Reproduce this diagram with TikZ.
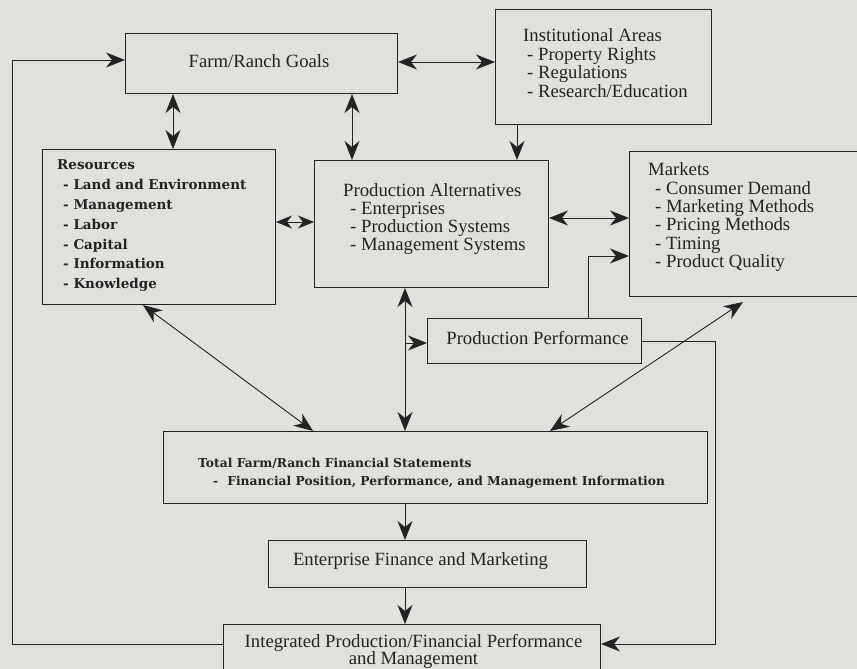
\documentclass[tikz,border=0pt]{standalone}
\usepackage{fontspec}
\setmainfont{Liberation Serif}
\newfontfamily\resfont{DejaVu Serif}
\usetikzlibrary{arrows.meta}
\definecolor{paper}{RGB}{224,224,220}
\definecolor{ink}{RGB}{35,35,35}
\begin{document}
\begin{tikzpicture}[x=1pt,y=-1pt,
  box/.style={draw=ink, line width=1pt, anchor=north west, inner sep=0pt},
  tx/.style={anchor=base west, inner sep=0pt, text=ink, font=\fontsize{18.7}{18.7}\selectfont},
  txc/.style={anchor=base, inner sep=0pt, text=ink, font=\fontsize{18.7}{18.7}\selectfont},
  rx/.style={anchor=base west, inner sep=0pt, text=ink, font=\resfont\bfseries\fontsize{13.5}{13.5}\selectfont},
  fx/.style={anchor=base west, inner sep=0pt, text=ink, font=\resfont\bfseries\fontsize{12.3}{12.3}\selectfont},
  con/.style={draw=ink, line width=0.9pt},
  >={Stealth[length=19pt,width=15pt,inset=6pt]},
  smalltips/.style={>={Stealth[length=16pt,width=13pt,inset=5pt]}}]
\useasboundingbox (0,0) rectangle (857,669);
\fill[paper] (0,0) rectangle (857,669);

% boxes
\node[box, minimum width=272pt, minimum height=60pt] (goals) at (125,33) {};
\node[box, minimum width=216pt, minimum height=115pt] (inst) at (495,9) {};
\node[box, minimum width=233pt, minimum height=155pt] (res) at (42,149) {};
\node[box, minimum width=234pt, minimum height=127pt] (alt) at (314,160) {};
\node[box, minimum width=240pt, minimum height=145pt] (mkt) at (629,151) {};
\node[box, minimum width=214pt, minimum height=45pt] (perf) at (427,318) {};
\node[box, minimum width=544pt, minimum height=72pt] (tot) at (163,431) {};
\node[box, minimum width=318pt, minimum height=47pt] (ent) at (268,540) {};
\node[box, minimum width=377pt, minimum height=60pt] (integ) at (223,624) {};

% texts
\node[txc] (tgoals) at (259,68) {Farm/Ranch Goals};
\node[tx] (ti1) at (523,42) {Institutional Areas};
\node[tx] (ti2) at (527,61) {- Property Rights};
\node[tx] (ti3) at (527,79) {- Regulations};
\node[tx] (ti4) at (527,98) {- Research/Education};

\node[rx] (tr1) at (57,169) {Resources};
\node[rx] (tr2) at (63,189) {- Land and Environment};
\node[rx] (tr3) at (63,209) {- Management};
\node[rx] (tr4) at (63,229) {- Labor};
\node[rx] (tr5) at (63,249) {- Capital};
\node[rx] (tr6) at (63,268) {- Information};
\node[rx] (tr7) at (63,288) {- Knowledge};

\node[tx] (ta1) at (343,196) {Production Alternatives};
\node[tx] (ta2) at (350,214) {- Enterprises};
\node[tx] (ta3) at (350,232) {- Production Systems};
\node[tx] (ta4) at (350,250) {- Management Systems};

\node[tx] (tm1) at (648,175) {Markets};
\node[tx] (tm2) at (655,194) {- Consumer Demand};
\node[tx] (tm3) at (655,212) {- Marketing Methods};
\node[tx] (tm4) at (655,230) {- Pricing Methods};
\node[tx] (tm5) at (655,249) {- Timing};
\node[tx] (tm6) at (655,267) {- Product Quality};

\node[txc] (tperf) at (537.5,344) {Production Performance};
\node[fx] (tt1) at (198,467) {Total Farm/Ranch Financial Statements};
\node[fx] (tt2) at (213,485) {-\hspace{9pt}Financial Position, Performance, and Management Information};
\node[txc] (tent) at (420.5,565) {Enterprise Finance and Marketing};
\node[txc] (tg1) at (413.5,647) {Integrated Production/Financial Performance};
\node[txc] (tg2) at (413.5,664) {and Management};

% helper coordinates
\coordinate (xa) at (173,0);
\coordinate (xb) at (352,0);
\coordinate (xc) at (517,0);
\coordinate (xd) at (405,0);
\coordinate (xe) at (588,0);
\coordinate (rx) at (715,0);
\coordinate (lx) at (12,0);
\coordinate (ya) at (0,222);
\coordinate (yb) at (0,218);
\coordinate (yc) at (0,256);
\coordinate (yd) at (0,343);
\coordinate (ye) at (0,341);
\coordinate (yf) at (0,644);
\coordinate (yg) at (0,60);
\coordinate (yh) at (0,62);
\coordinate (ra) at (143,0);
\coordinate (ta) at (313,0);
\coordinate (ma) at (743,302);
\coordinate (tb) at (550,0);
\coordinate (br) at (405,343);

% connectors
\draw[con,<->] (goals.south -| xa) -- (res.north -| xa);
\draw[con,<->] (goals.south -| xb) -- (alt.north -| xb);
\draw[con,<->] (goals.east |- yh) -- (inst.west |- yh);
\draw[con,->] (inst.south -| xc) -- (alt.north -| xc);
\draw[con,smalltips,<->] (res.east |- ya) -- (alt.west |- ya);
\draw[con,<->] (alt.east |- yb) -- (mkt.west |- yb);
\draw[con,->] (perf.north -| xe) |- (mkt.west |- yc);
\draw[con,<->] (alt.south -| xd) -- (tot.north -| xd);
\draw[con,->] (br) -- (perf.west |- yd);
\draw[con,->] (perf.east |- ye) -| (rx |- yf) -- (integ.east |- yf);
\draw[con,<->] (res.south -| ra) -- (tot.north -| ta);
\draw[con,<->] (ma) -- (tot.north -| tb);
\draw[con,->] (tot.south -| xd) -- (ent.north -| xd);
\draw[con,->] (ent.south -| xd) -- (integ.north -| xd);
\draw[con,->] (integ.west |- yf) -| (lx |- yg) -- (goals.west |- yg);
\end{tikzpicture}
\end{document}
